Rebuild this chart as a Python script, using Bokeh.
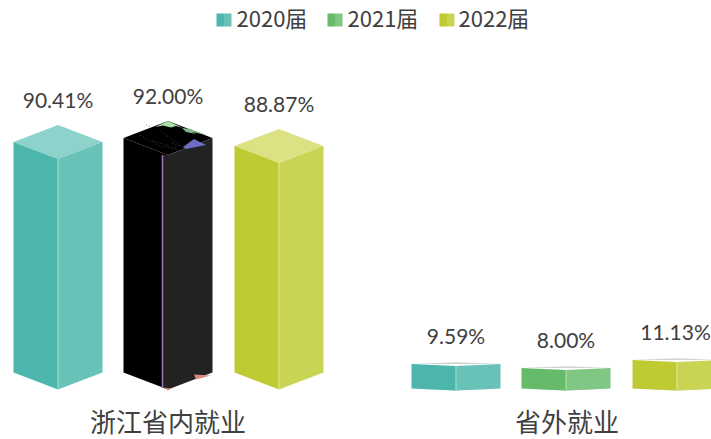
from bokeh.plotting import figure
from bokeh.models import Range1d
from bokeh.core.properties import value
from bokeh.embed import file_html
from bokeh.resources import INLINE

categories = ["浙江省内就业", "省外就业"]
series_names = ["2020届", "2021届", "2022届"]
v2020 = [90.41, 9.59]
v2021 = [92.00, 8.00]
v2022 = [88.87, 11.13]

W, H = 711, 439
K = 2.55
def Y(px):
    return (372 - px) / K

p = figure(width=W, height=H, output_backend="svg", toolbar_location=None,
           x_range=Range1d(0, W), y_range=Range1d(Y(H), Y(0)),
           min_border=0, min_border_left=0, min_border_right=0, min_border_top=0, min_border_bottom=0,
           outline_line_color=None, background_fill_color="white",
           border_fill_color="white")
p.axis.visible = False
p.grid.visible = False

FACES = [
    dict(left="#4DB6AC", right="#69C2B8", top="#8DD3CC", edge="#9ADAD3"),
    dict(left="#66BB6A", right="#81C784", top="#A6D8A8", edge="#A9DAAB"),
    dict(left="#C0CA33", right="#C9D455", top="#DCE284", edge="#DEE48E"),
]
BLACK = dict(left="#000000", right="#222222", top="#000000", edge="#222222")
LABEL_COL = "#404040"
NUM_FONT = value("Lato")
CJK_FONT = value("Noto Sans CJK SC")

GROUP_LEFT = [[13, 123, 234], [411, 521, 632]]
HALF = 44.5
BASE_PX = [372, 388]
DEPTH_PX = [17, 2]
LABEL_GAP_PX = [25, 26.5]
LABEL_MAX_X = 675

def bar(x0, val, base_px, d_px, gap_px, face):
    xc, x1 = x0 + HALF, x0 + 2 * HALF
    b = Y(base_px)
    t = b + val
    d = d_px / K
    xs, ys, cols = [], [], []
    if d_px < 5:
        xs.append([x0, xc, x1]); ys.append([b, b - d, b]); cols.append("#c4cccc")
        xs.append([x0, xc, x1]); ys.append([t, t + d * .9, t]); cols.append("#ccd4d2")
    else:
        xs.append([x0, xc, x1, xc]); ys.append([t, t + d, t, t - d]); cols.append(face["top"])
    xs.append([x0, xc, xc, x0]); ys.append([b, b - d, t - d, t]); cols.append(face["left"])
    xs.append([xc, x1, x1, xc]); ys.append([b - d, b, t, t - d]); cols.append(face["right"])
    p.patches(xs, ys, fill_color=cols, line_color=None)
    p.line([xc, xc], [b - d, t - d], line_color=face["edge"], line_width=1.2)
    p.text([min(xc, LABEL_MAX_X)], [t + d + gap_px / K], text=[f"{val:.2f}%"], text_font=NUM_FONT,
           text_font_size="21px", text_color=LABEL_COL, text_align="center", text_baseline="middle")
    return xc, b, t, d

series = [v2020, v2021, v2022]
for g in range(2):
    for s in range(3):
        is_black = (g == 0 and s == 1)
        xc, b, t, d = bar(GROUP_LEFT[g][s], series[s][g], BASE_PX[g], DEPTH_PX[g], LABEL_GAP_PX[g],
                          BLACK if is_black else FACES[s])
        if is_black:
            # rendering artefacts seen on this bar in the source picture
            top_c = t + d
            p.patch([xc - 5.5, xc, xc, xc - 5.5], [b - 15 / K, b - d, t - d, t - d], fill_color="#222222", line_color=None)
            pts = [
                ([xc - 13, xc, xc + 15, xc + 8, xc + 3, xc - 5], [top_c - 6 / K, top_c, top_c - 7 / K, top_c - 5 / K, top_c - 6.5 / K, top_c - 4.5 / K], "#A8DDA9"),
                ([xc + 14, xc + 22, xc + 39, xc + 24, xc + 28, xc + 18], [top_c - 7 / K, top_c - 8 / K, top_c - 14 / K, top_c - 11 / K, top_c - 13 / K, top_c - 11 / K], "#7FB88A"),
                ([xc + 15, xc + 26, xc + 38, xc + 18], [t - 9 / K, t - 1 / K, t - 7 / K, t - 11 / K], "#6F6CC8"),
                ([xc + 26, xc + 43, xc + 28], [b - 2 / K, b - 3 / K, b - 7 / K], "#D98880"),
                ([xc - 5, xc + 3, xc], [b - 15 / K, b - 16 / K, b - 18 / K], "#D98880"),
            ]
            for xs_, ys_, c in pts:
                p.patch(xs_, ys_, fill_color=c, line_color=None)
            p.segment([xc - 28, xc - 16, xc - 8, xc + 4, xc - 22, xc - 3],
                      [t + 1, t - 1, t + 3, t - 2, t + 5, t - 3.5],
                      [xc - 4, xc + 8, xc + 12, xc + 20, xc - 18, xc + 14],
                      [t - 4, t - 4, t - 3, t - 4.5, t + 4.5, t - 5.2],
                      line_color="#57507a", line_width=0.7, line_dash="1 2")
            p.line([xc - 5.5, xc - 5.5], [b - 15 / K, t - d], line_color="#9A72B0", line_width=1.6)

p.text([167.5, 566.5], [Y(420), Y(420)], text=categories, text_font=CJK_FONT, text_font_size="26px",
       text_color=LABEL_COL, text_align="center", text_baseline="middle")

LEG_ICON = [216, 327, 439]
LEG_TEXT = [236, 347, 458]
for i, name in enumerate(series_names):
    x0 = LEG_ICON[i]
    f = FACES[i]
    p.patch([x0, x0 + 7.5, x0 + 7.5, x0], [Y(13), Y(13), Y(26), Y(26)], fill_color=f["left"], line_color=None)
    p.patch([x0 + 7.5, x0 + 15, x0 + 15, x0 + 7.5], [Y(13), Y(13), Y(26), Y(26)], fill_color=f["right"], line_color=None)
    p.text([LEG_TEXT[i]], [Y(16.5)], text=[name], text_font=CJK_FONT, text_font_size="22px",
           text_color=LABEL_COL, text_align="left", text_baseline="middle")

open("out.html", "w").write(file_html(p, INLINE))
